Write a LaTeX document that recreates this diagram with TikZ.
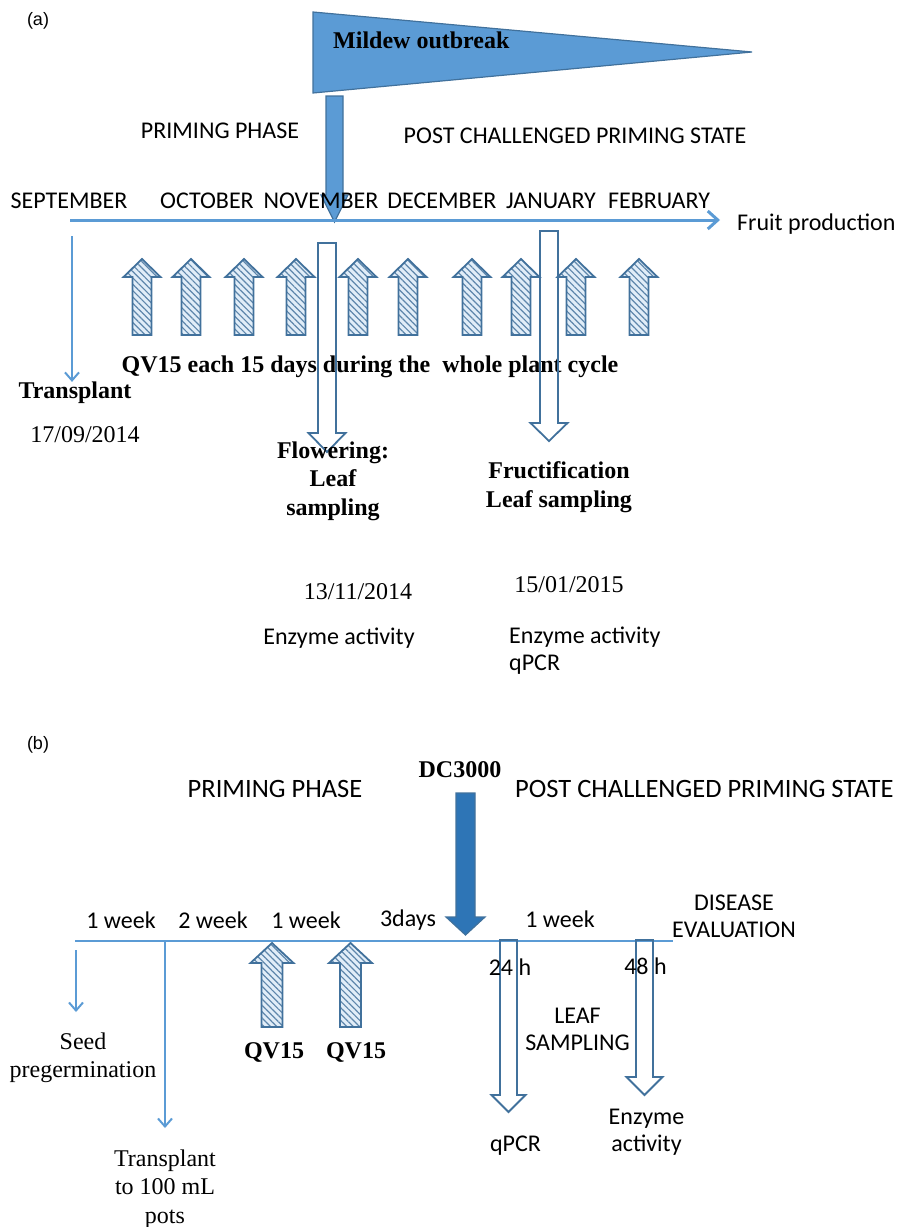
\documentclass[tikz,border=0pt]{standalone}
\usepackage{fontspec}
\setmainfont{Liberation Serif}
\setsansfont{Carlito}
\newfontfamily\tagfont{Liberation Sans}
\usetikzlibrary{arrows.meta,patterns.meta}

\definecolor{lineblue}{RGB}{91,155,213}
\definecolor{edgeblue}{RGB}{65,113,156}
\definecolor{darkblue}{RGB}{46,117,182}
\definecolor{paleblue}{RGB}{225,237,248}

% block arrow: x, tail y, head base y, tip y, shaft half width, head half width, style
\newcommand{\blockarr}[7]{%
  \draw[#7] ({#1-#5},#2) -- ({#1-#5},#3) -- ({#1-#6},#3) -- (#1,#4)
    -- ({#1+#6},#3) -- ({#1+#5},#3) -- ({#1+#5},#2) -- cycle;}

\begin{document}
\begin{tikzpicture}[x=1pt,y=-1pt,
  tag/.style={font=\tagfont\fontsize{18}{20}\selectfont, inner sep=0pt},
  sanslbl/.style={font=\sffamily\fontsize{24}{27}\selectfont, inner sep=0pt, align=center},
  bigsans/.style={font=\sffamily\fontsize{26.5}{29}\selectfont, inner sep=0pt},
  serlbl/.style={font=\rmfamily\fontsize{24}{28.5}\selectfont, inner sep=0pt, align=center},
  boldlbl/.style={font=\rmfamily\bfseries\fontsize{24}{28.5}\selectfont, inner sep=0pt, align=center},
  thinarr/.style={draw=lineblue, line width=1.3pt, -{Straight Barb[length=8pt,width=14pt,line width=2pt]}},
  hatched/.style={draw=edgeblue, line width=1.8pt, line join=miter, preaction={fill=paleblue},
    pattern={Lines[angle=-45,distance=4.5pt,line width=1.2pt]}, pattern color=edgeblue!85},
  hollow/.style={draw=edgeblue, line width=1.8pt, line join=miter},
  solidarr/.style={draw=edgeblue, line width=1.2pt, fill=lineblue, line join=miter}]

\useasboundingbox (0,0) rectangle (899,1227);

% ---------------- (a) field trial ----------------
\node[tag] (tagA) at (38,21) {(a)};

% mildew flag and its arrow
\draw[solidarr] (313,12) -- (752,52) -- (313,93) -- cycle;
\node[boldlbl, anchor=west] (mildew) at (333,40) {Mildew outbreak};
\blockarr{334.5}{96}{195}{222}{8.5}{13.5}{solidarr}

\node[sanslbl] (primA) at (220,131) {PRIMING PHASE};
\node[sanslbl] (postA) at (575,136) {POST CHALLENGED PRIMING STATE};

% months
\node[sanslbl] (sep) at (69,201) {SEPTEMBER};
\node[sanslbl] (oct) at (207,201) {OCTOBER};
\node[sanslbl] (nov) at (321,201) {NOVEMBER};
\node[sanslbl] (dec) at (442,201) {DECEMBER};
\node[sanslbl] (jan) at (551,201) {JANUARY};
\node[sanslbl] (feb) at (659,201) {FEBRUARY};

% timeline
\coordinate (tlA) at (70,220);
\node[sanslbl, anchor=west] (fruit) at (737,224) {Fruit production};
\draw[draw=lineblue, line width=3pt, -{Straight Barb[length=10pt,width=18pt]}] (tlA) -- (720,220);

% transplant
\node[boldlbl] (transA) at (75,393) {Transplant};
\node[serlbl] (dateA) at (85,435) {17/09/2014};
\coordinate (tA) at (72,236);
\draw[thinarr] (tA) -- (tA |- transA.north);

% QV15 treatments
\foreach \x in {142,191,244,296,358,408,472,521,576,639}
  \blockarr{\x}{335}{277}{259}{9.5}{18.5}{hatched};
\node[boldlbl] (qvA) at (370,367) {QV15 each 15 days during the\ \ whole plant cycle};

% sampling arrows
\blockarr{327}{243}{433}{452}{9}{18.5}{hollow}
\blockarr{549}{231}{423}{441}{9}{18.5}{hollow}

\node[boldlbl] (flower) at (333,481) {Flowering:\\Leaf\\sampling};
\node[boldlbl] (fruct) at (559,487) {Fructification\\Leaf sampling};
\node[serlbl] (dateB) at (358,592) {13/11/2014};
\node[serlbl] (dateC) at (569,585) {15/01/2015};
\node[sanslbl] (enzA) at (339,638) {Enzyme activity};
\node[sanslbl, align=left, anchor=west] (enzB) at (509,651) {Enzyme activity\\qPCR};

% ---------------- (b) growth chamber ----------------
\node[tag] (tagB) at (38,745) {(b)};

\node[boldlbl] (dc) at (460,770) {DC3000};
\node[bigsans] (primB) at (275,789) {PRIMING PHASE};
\node[bigsans, anchor=west] (postB) at (515,789) {POST CHALLENGED PRIMING STATE};

\blockarr{465.5}{793}{917}{935}{9.5}{19.5}{solidarr, fill=darkblue}

% timeline
\coordinate (tlB0) at (75,941);
\coordinate (tlB1) at (673,941);
\draw[draw=lineblue, line width=1.2pt] (tlB0) -- (tlB1);

\node[sanslbl] (w1) at (121,920) {1 week};
\node[sanslbl] (w2) at (213,920) {2 week};
\node[sanslbl] (w3) at (306,920) {1 week};
\node[sanslbl] (d3) at (408,920) {3days};
\node[sanslbl] (w4) at (560,919) {1 week};
\node[sanslbl] (dis) at (734,916) {DISEASE\\EVALUATION};

% seed and transplant
\node[serlbl] (seed) at (83,1057.5) {Seed\\pregermination};
\node[serlbl] (transB) at (165,1189) {Transplant\\to 100 mL\\pots};
\coordinate (sB) at (76,950);
\coordinate (tB) at (165,941);
\draw[thinarr] (sB) -- (76,1012);
\draw[thinarr] (tB) -- (165,1128);

% QV15 treatments
\blockarr{272}{1027}{963}{943}{10.5}{21.5}{hatched}
\blockarr{350.5}{1027}{963}{943}{10.5}{21.5}{hatched}
\node[boldlbl] (qv1) at (274,1052) {QV15};
\node[boldlbl] (qv2) at (356,1052) {QV15};

% sampling arrows
\blockarr{508.5}{940}{1095}{1112}{8.5}{17}{hollow}
\blockarr{644.5}{940}{1077}{1095}{8.5}{18}{hollow}
\node[sanslbl] (h24) at (510,967) {24 h};
\node[sanslbl] (h48) at (645.5,966) {48 h};
\node[sanslbl] (leaf) at (577.5,1029.5) {LEAF\\SAMPLING};
\node[sanslbl] (qpcr) at (515.5,1146) {qPCR};
\node[sanslbl] (enzC) at (646.5,1132) {Enzyme\\activity};

\end{tikzpicture}
\end{document}
